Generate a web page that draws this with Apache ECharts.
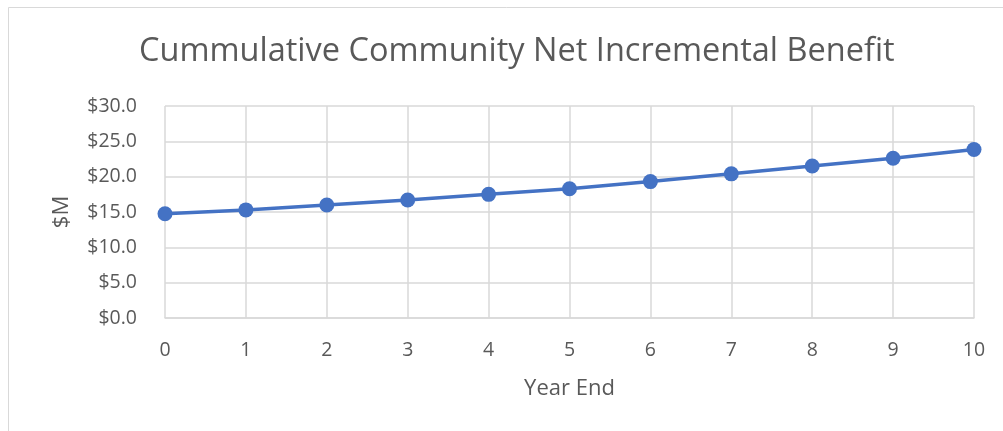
<!DOCTYPE html>
<html><head><meta charset="utf-8">
<script src="https://cdn.jsdelivr.net/npm/echarts@6/dist/echarts.min.js"></script>
<style>html,body{margin:0;padding:0;background:#fff}#c{width:1003px;height:431px}</style>
</head><body><div id="c"></div>
<script>
const categories = ['0','1','2','3','4','5','6','7','8','9','10'];
const values = [14.75, 15.3, 16.0, 16.7, 17.5, 18.3, 19.3, 20.4, 21.5, 22.6, 23.85];
const titleText = 'Cummulative Community Net Incremental Benefit';
const xName = 'Year End';
const yName = '$M';

const FONT = 'Open Sans';
const TXT = '#595959';
const GRID = '#d9d9d9';
const chart = echarts.init(document.getElementById('c'), null, {renderer:'canvas'});
chart.setOption({
  animation:false,
  backgroundColor:'#fff',
  graphic:[{type:'rect', shape:{x:8.5,y:7.5,width:1200,height:600}, style:{fill:'none', stroke:GRID, lineWidth:1}, silent:true, z:-1}],
  title:{text:titleText, left:134, top:30, textStyle:{fontFamily:FONT, fontSize:32.5, fontWeight:'normal', color:TXT}},
  grid:{left:165, right:29, top:106, bottom:113, containLabel:false},
  xAxis:{type:'category', data:categories, boundaryGap:false,
    name:xName, nameLocation:'middle', nameGap:60,
    nameTextStyle:{fontFamily:FONT, fontSize:22, color:TXT, verticalAlign:'top'},
    axisLine:{lineStyle:{color:GRID, width:1.5}}, axisTick:{show:false},
    axisLabel:{fontFamily:FONT, fontSize:19.5, color:TXT, margin:22},
    splitLine:{show:true, lineStyle:{color:GRID, width:1.5}}},
  yAxis:{type:'value', min:0, max:30, interval:5,
    name:yName, nameLocation:'middle', nameGap:92, nameRotate:90,
    nameTextStyle:{fontFamily:FONT, fontSize:22, color:TXT},
    axisLine:{show:false}, axisTick:{show:false},
    axisLabel:{fontFamily:FONT, fontSize:19.5, color:TXT, margin:28, formatter:v=>'$'+v.toFixed(1)},
    splitLine:{lineStyle:{color:GRID, width:1.5}}},
  series:[{type:'line', data:values, symbol:'circle', symbolSize:15,
    lineStyle:{color:'#4472C4', width:3.5}, itemStyle:{color:'#4472C4'}}]
});
</script></body></html>
